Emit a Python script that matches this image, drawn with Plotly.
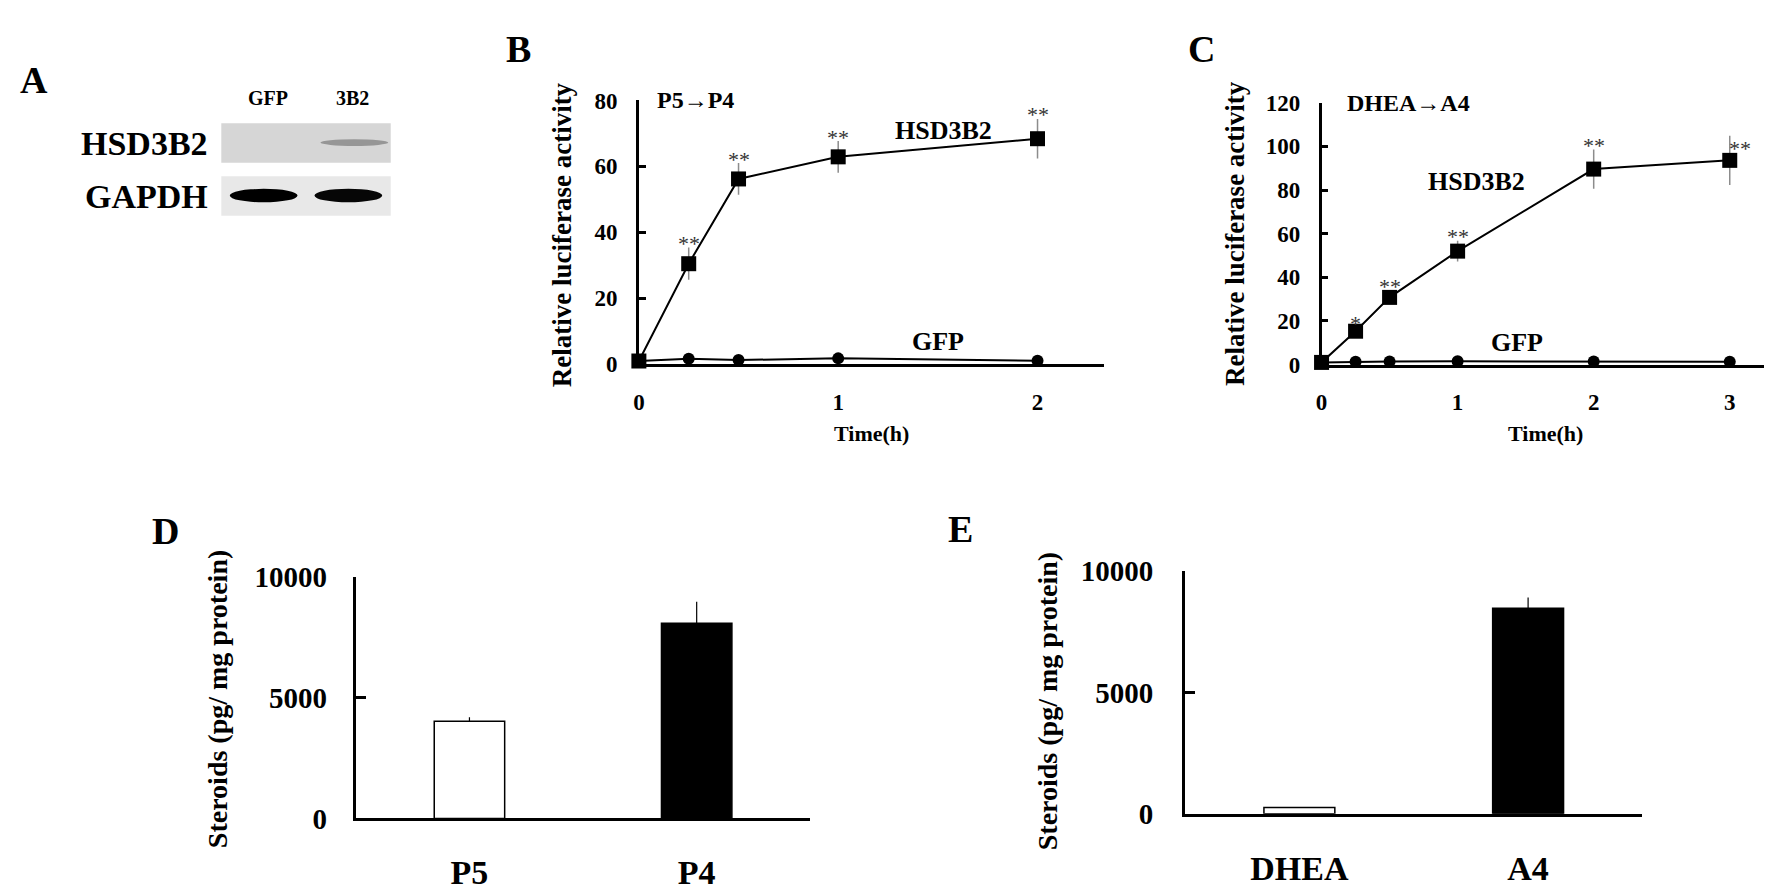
import plotly.graph_objects as go
from plotly.subplots import make_subplots

W, H = 1772, 890
FONT = "Liberation Serif"

# ---- panel A : western blot (band intensity 0..1 per lane)
lanes = ['GFP', '3B2']
blot_rows = ['HSD3B2', 'GAPDH']
hsd3b2_band = [0.0, 0.30]
gapdh_band = [1.0, 0.97]

# ---- panel B : P5 -> P4 luciferase time course
time_b = [0, 0.25, 0.5, 1, 2]
hsd_b = [1.0, 30.5, 56.2, 62.9, 68.4]
hsd_b_err = [0, 4.9, 4.8, 4.8, 6.0]
gfp_b = [1.0, 1.7, 1.3, 1.8, 1.1]
stars_b = ['', '**', '**', '**', '**']

# ---- panel C : DHEA -> A4 luciferase time course
time_c = [0, 0.25, 0.5, 1, 2, 3]
hsd_c = [1.0, 15.3, 30.8, 52.0, 89.6, 93.6]
hsd_c_err = [0, 1.5, 3.0, 4.8, 9.0, 11.3]
gfp_c = [1.0, 1.3, 1.4, 1.5, 1.4, 1.3]
stars_c = ['', '*', '**', '**', '**', '**']

# ---- panels D, E : steroid levels
cats_d = ['P5', 'P4']
vals_d = [4020, 8070]
err_d = [160, 890]
cats_e = ['DHEA', 'A4']
vals_e = [265, 8460]
err_e = [0, 440]


def px(x):
    return x / W


def py(y):
    return 1 - y / H


fig = make_subplots(rows=1, cols=4)

# B
fig.add_trace(go.Scatter(x=time_b, y=hsd_b, mode='lines+markers', name='HSD3B2',
                         line=dict(color='black', width=2),
                         marker=dict(symbol='square', size=15, color='black'),
                         error_y=dict(type='data', array=hsd_b_err, color='#8c8c8c',
                                      thickness=1.5, width=0),
                         cliponaxis=False, showlegend=False), row=1, col=1)
fig.add_trace(go.Scatter(x=time_b, y=gfp_b, mode='lines+markers', name='GFP',
                         line=dict(color='black', width=2),
                         marker=dict(symbol='circle', size=12, color='black'),
                         cliponaxis=False, showlegend=False), row=1, col=1)
# C
fig.add_trace(go.Scatter(x=time_c, y=hsd_c, mode='lines+markers', name='HSD3B2',
                         line=dict(color='black', width=2),
                         marker=dict(symbol='square', size=15, color='black'),
                         error_y=dict(type='data', array=hsd_c_err, color='#8c8c8c',
                                      thickness=1.5, width=0),
                         cliponaxis=False, showlegend=False), row=1, col=2)
fig.add_trace(go.Scatter(x=time_c, y=gfp_c, mode='lines+markers', name='GFP',
                         line=dict(color='black', width=2),
                         marker=dict(symbol='circle', size=12, color='black'),
                         cliponaxis=False, showlegend=False), row=1, col=2)
# D
fig.add_trace(go.Bar(x=cats_d, y=vals_d, width=0.31,
                     marker=dict(color=['white', 'black'], line=dict(color='black', width=1.5)),
                     error_y=dict(type='data', symmetric=False, array=err_d, arrayminus=[0, 0],
                                  color='black', thickness=1.2, width=0),
                     showlegend=False), row=1, col=3)
# E
fig.add_trace(go.Bar(x=cats_e, y=vals_e, width=0.31,
                     marker=dict(color=['white', 'black'], line=dict(color='black', width=1.5)),
                     error_y=dict(type='data', symmetric=False, array=err_e, arrayminus=[0, 0],
                                  color='black', thickness=1.2, width=0),
                     showlegend=False), row=1, col=4)

bold = dict(family=FONT, color='black', weight='bold')
line_ax = dict(showline=True, linecolor='black', showgrid=False, zeroline=False)

fig.update_layout(
    width=W, height=H, margin=dict(l=0, r=0, t=0, b=0), autosize=False,
    plot_bgcolor='white', paper_bgcolor='white',
    xaxis=dict(domain=[px(627), px(1094)], range=[0, 2.335], tickvals=[0, 1, 2],
               ticks='', linewidth=2.5, tickfont=dict(size=23, **bold),
               ticklabelstandoff=15, **line_ax),
    yaxis=dict(domain=[py(353), py(79.3)], range=[0, 80], dtick=20, ticks='inside',
               ticklen=7, tickwidth=2.5, tickcolor='black', linewidth=2.5,
               tickfont=dict(size=23, **bold), ticklabelstandoff=14, **line_ax),
    xaxis2=dict(domain=[px(1312), px(1768)], range=[0, 3.34], tickvals=[0, 1, 2, 3],
                ticks='', linewidth=2.5, tickfont=dict(size=23, **bold),
                ticklabelstandoff=15, **line_ax),
    yaxis2=dict(domain=[py(353.3), py(81.7)], range=[0, 120], dtick=20, ticks='inside',
                ticklen=7, tickwidth=2.5, tickcolor='black', linewidth=2.5,
                tickfont=dict(size=23, **bold), ticklabelstandoff=14, **line_ax),
    xaxis3=dict(domain=[px(343), px(799)], range=[-0.5, 1.5], ticks='', linewidth=3,
                tickfont=dict(size=34, **bold), ticklabelstandoff=22, **line_ax),
    yaxis3=dict(domain=[py(824), py(573.3)], range=[0, 10000], tickvals=[0, 5000, 10000],
                tickformat='d', ticks='inside', ticklen=10, tickwidth=3, tickcolor='black',
                linewidth=3, tickfont=dict(size=29, **bold), ticklabelstandoff=20, **line_ax),
    xaxis4=dict(domain=[px(1175), px(1634)], range=[-0.5, 1.5], ticks='', linewidth=3,
                tickfont=dict(size=34, **bold), ticklabelstandoff=22, **line_ax),
    yaxis4=dict(domain=[py(819.3), py(567.3)], range=[0, 10000], tickvals=[0, 5000, 10000],
                tickformat='d', ticks='inside', ticklen=10, tickwidth=3, tickcolor='black',
                linewidth=3, tickfont=dict(size=29, **bold), ticklabelstandoff=23, **line_ax),
)

anns = []


def ann(text, x, y, size, xref='paper', yref='paper', weight='bold', **kw):
    a = dict(text=text, x=x, y=y, xref=xref, yref=yref, showarrow=False,
             xanchor='center', yanchor='middle',
             font=dict(family=FONT, size=size, color=kw.pop('color', 'black'), weight=weight))
    a.update(kw)
    anns.append(a)


# panel letters
for letter, lx, ly in [('A', 20, 58), ('B', 506, 26), ('C', 1192, 26), ('D', 152, 526), ('E', 950, 524)]:
    ann(letter, px(lx), py(ly), 38)

# ---- panel A blot
box_x0, lane_w = 208, 85
shapes = []
for r, (row, bands, top) in enumerate(zip(blot_rows, [hsd3b2_band, gapdh_band], [103, 158])):
    shapes.append(dict(type='rect', xref='paper', yref='paper', x0=px(box_x0), x1=px(box_x0 + 2 * lane_w),
                       y0=py(top + 41), y1=py(top), fillcolor='#d6d6d6' if r == 0 else '#e8e8e8',
                       line=dict(width=0), layer='below'))
    for i, v in enumerate(bands):
        if v <= 0:
            continue
        g = int(215 - 215 * v)
        cx = box_x0 + lane_w * (i + 0.5) + (6 if r == 0 else 0)
        bh = 7 if r == 0 else 14
        shapes.append(dict(type='circle', xref='paper', yref='paper',
                           x0=px(cx - 34), x1=px(cx + 34), y0=py(top + 20 + bh / 2), y1=py(top + 20 - bh / 2),
                           fillcolor='rgb(%d,%d,%d)' % (g, g, g), line=dict(width=0)))
    ann(row, px(197), py(top + 21), 34, xanchor='right')
for i, lane in enumerate(lanes):
    ann(lane, px(box_x0 + lane_w * (i + 0.5) + 4), py(77), 20)

# ---- panel B texts
ann('Relative luciferase activity', px(550), py(219), 27, textangle=-90)
ann('Time(h)', px(860), py(425), 22)
ann('P5\u2192P4', 0.08, 80, 24, xref='x', yref='y', xanchor='left')
ann('HSD3B2', 1.53, 71, 26, xref='x', yref='y')
ann('GFP', 1.5, 7.0, 26, xref='x', yref='y')
for t, v, e, s in zip(time_b, hsd_b, hsd_b_err, stars_b):
    if s:
        ann(s, t, v + e, 22, xref='x', yref='y', weight='normal', color='#333333', yshift=4)

# ---- panel C texts
ann('Relative luciferase activity', px(1225), py(217), 27, textangle=-90)
ann('Time(h)', px(1537), py(425), 22)
ann('DHEA\u2192A4', 0.17, 120, 24, xref='x2', yref='y2', xanchor='left')
ann('HSD3B2', 1.14, 83.8, 26, xref='x2', yref='y2')
ann('GFP', 1.44, 10.0, 26, xref='x2', yref='y2')
for i, (t, v, e, s) in enumerate(zip(time_c, hsd_c, hsd_c_err, stars_c)):
    if s:
        last = i == len(time_c) - 1
        ann(s, t, v + e, 22, xref='x2', yref='y2', weight='normal', color='#333333',
            yshift=-13 if last else 4, xshift=10 if last else 0)

# ---- panels D, E titles
ann('Steroids (pg/ mg protein)', px(205), py(700), 28, textangle=-90)
ann('Steroids (pg/ mg protein)', px(1037), py(702), 28, textangle=-90)

fig.update_layout(annotations=anns, shapes=shapes)
fig.write_html("out.html")
